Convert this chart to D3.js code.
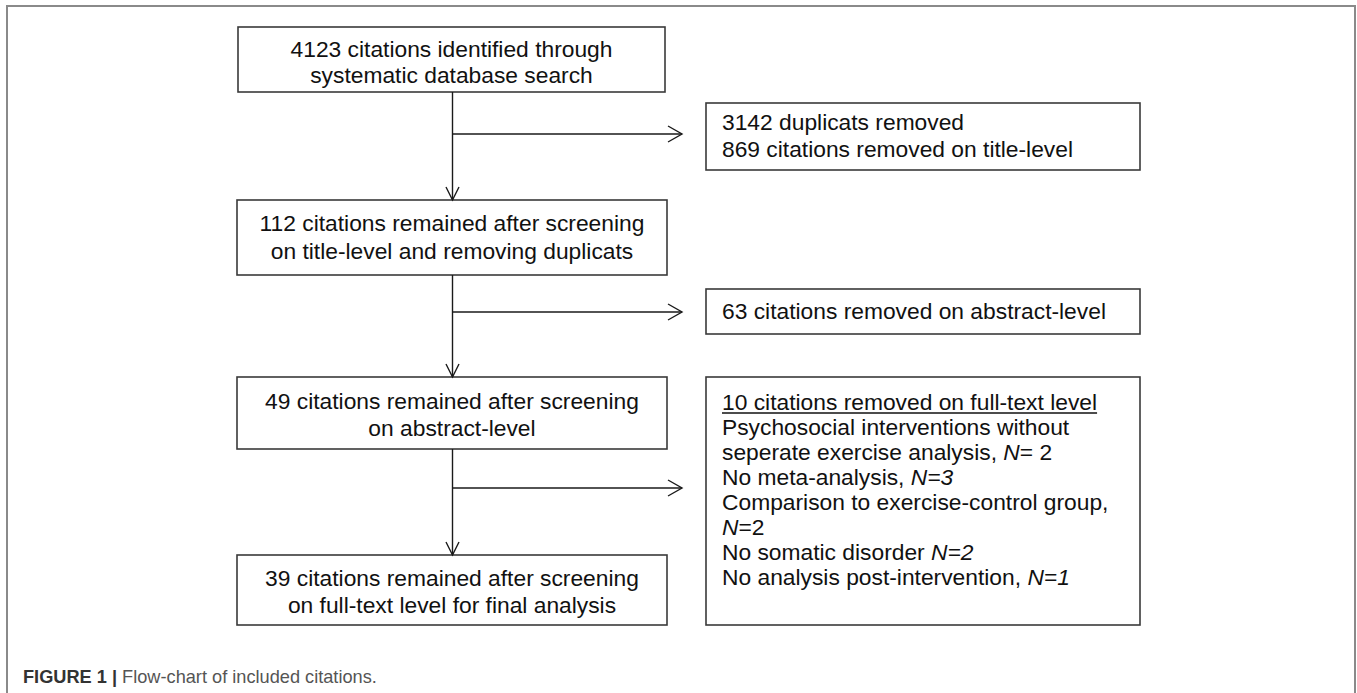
<!DOCTYPE html>
<html>
<head>
<meta charset="utf-8">
<script src="https://cdn.jsdelivr.net/npm/d3@7"></script>
<style>
  html, body { margin: 0; padding: 0; background: #fff; }
  svg { display: block; }
  text { font-family: "Liberation Sans", Arial, Helvetica, sans-serif; }
</style>
</head>
<body>
<svg id="chart" width="1357" height="693"></svg>
<script>
// ---- data ----
const stageLines = [
  ["4123 citations identified through", "systematic database search"],
  ["112 citations remained after screening", "on title-level and removing duplicats"],
  ["49 citations remained after screening", "on abstract-level"],
  ["39 citations remained after screening", "on full-text level for final analysis"]
];
// each exclusion line is a list of [text, italic] runs
const exclusionLines = [
  [ [["3142 duplicats removed", false]], [["869 citations removed on title-level", false]] ],
  [ [["63 citations removed on abstract-level", false]] ],
  [
    [["10 citations removed on full-text level", false]],
    [["Psychosocial interventions without", false]],
    [["seperate exercise analysis, ", false], ["N", true], ["= 2", false]],
    [["No meta-analysis, ", false], ["N=3", true]],
    [["Comparison to exercise-control group,", false]],
    [["N", true], ["=2", false]],
    [["No somatic disorder ", false], ["N=2", true]],
    [["No analysis post-intervention, ", false], ["N=1", true]]
  ]
];
const underlinedHeader = [false, false, true];
const captionBold = "FIGURE 1 |";
const captionText = " Flow-chart of included citations.";

// ---- layout ----
const svg = d3.select("#chart");
const fontSize = 22.8;

svg.append("rect").attr("x", 7).attr("y", 6).attr("width", 1348).attr("height", 720)
  .attr("fill", "none").attr("stroke", "#8a8a8a").attr("stroke-width", 2);

const leftBoxes = [
  {x0: 238, x1: 665, y0: 27, y1: 92, lineY: [49, 75]},
  {x0: 237, x1: 667, y0: 200, y1: 275, lineY: [223, 251]},
  {x0: 237, x1: 667, y0: 377, y1: 449, lineY: [401, 428]},
  {x0: 237, x1: 667, y0: 555, y1: 625, lineY: [578, 605]}
];
const rightX0 = 706, rightX1 = 1140;
const rightBoxes = [
  {y0: 103, y1: 170, lineY: [122, 149]},
  {y0: 289, y1: 334, lineY: [311]},
  {y0: 377, y1: 625, step: 25, first: 402}
];
const spineX = 452.5;
const branchY = [134, 312, 488];
const arrowTipX = 682;

const boxStroke = "#3a3a3a";
const lineStroke = "#1a1a1a";

leftBoxes.forEach((b, i) => {
  svg.append("rect").attr("x", b.x0).attr("y", b.y0)
    .attr("width", b.x1 - b.x0).attr("height", b.y1 - b.y0)
    .attr("fill", "#fff").attr("stroke", boxStroke).attr("stroke-width", 1.6);
  stageLines[i].forEach((t, j) => {
    svg.append("text").attr("x", (b.x0 + b.x1) / 2).attr("y", b.lineY[j])
      .attr("dy", "0.35em").attr("text-anchor", "middle")
      .attr("font-size", fontSize).attr("fill", "#111").text(t);
  });
});

rightBoxes.forEach((b, i) => {
  svg.append("rect").attr("x", rightX0).attr("y", b.y0)
    .attr("width", rightX1 - rightX0).attr("height", b.y1 - b.y0)
    .attr("fill", "#fff").attr("stroke", boxStroke).attr("stroke-width", 1.6);
  exclusionLines[i].forEach((runs, j) => {
    const y = b.lineY ? b.lineY[j] : b.first + j * b.step;
    const t = svg.append("text").attr("x", rightX0 + 16).attr("y", y)
      .attr("dy", "0.35em").attr("font-size", fontSize).attr("fill", "#111");
    runs.forEach(([s, it]) => {
      t.append("tspan").attr("font-style", it ? "italic" : "normal").text(s);
    });
    if (underlinedHeader[i] && j === 0) {
      const w = t.node().getComputedTextLength();
      svg.append("line").attr("x1", rightX0 + 16).attr("x2", rightX0 + 16 + w)
        .attr("y1", y + 11).attr("y2", y + 11)
        .attr("stroke", "#111").attr("stroke-width", 1.4);
    }
  });
});

const line = d3.line();
const conn = svg.append("g").attr("fill", "none").attr("stroke", lineStroke).attr("stroke-width", 1.4);
for (let i = 0; i < leftBoxes.length - 1; i++) {
  const yA = leftBoxes[i].y1, yB = leftBoxes[i + 1].y0;
  conn.append("path").attr("d", line([[spineX, yA], [spineX, yB]]));
  conn.append("path").attr("d", line([[spineX - 6.5, yB - 13], [spineX, yB], [spineX + 6.5, yB - 13]]));
  const by = branchY[i];
  conn.append("path").attr("d", line([[spineX, by], [arrowTipX, by]]));
  conn.append("path").attr("d", line([[arrowTipX - 14, by - 8], [arrowTipX, by], [arrowTipX - 14, by + 8]]));
}

const cap = svg.append("text").attr("x", 23).attr("y", 683).attr("font-size", 18.2);
cap.append("tspan").attr("font-weight", "bold").attr("fill", "#333").text(captionBold);
cap.append("tspan").attr("fill", "#555").text(captionText);
</script>
</body>
</html>
